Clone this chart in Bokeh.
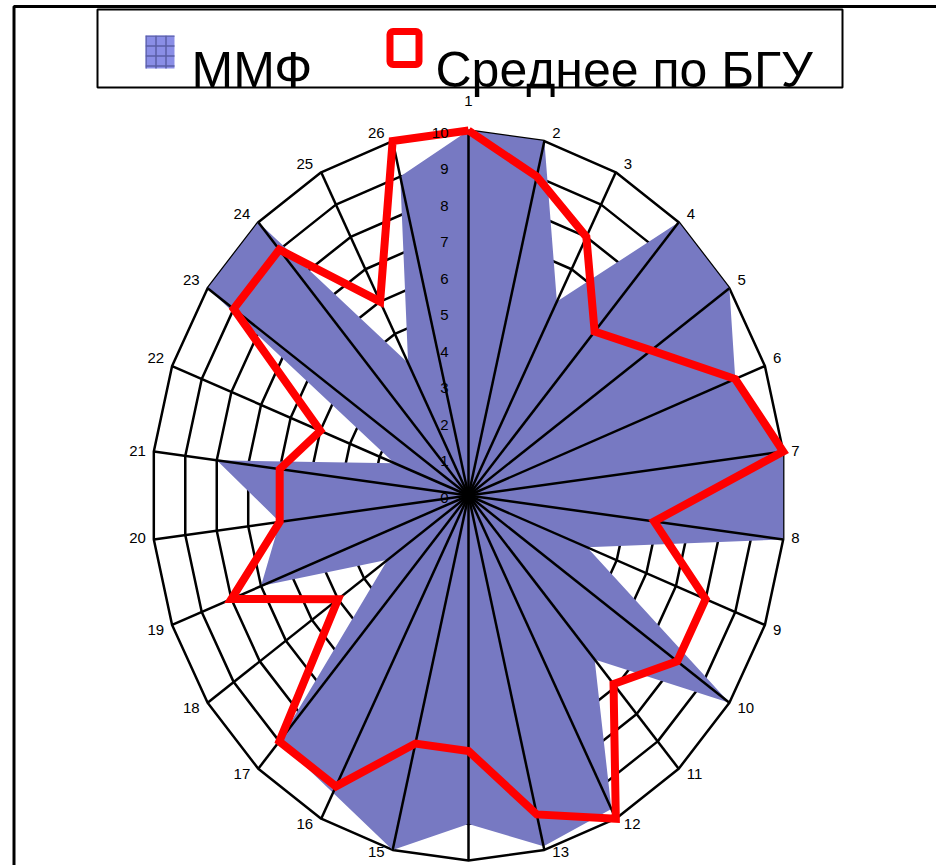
import math
from bokeh.plotting import figure
from bokeh.models import ColumnDataSource, Label, BoxAnnotation, Range1d
from bokeh.core.properties import value
from bokeh.embed import file_html
from bokeh.resources import INLINE

# ---------------- data ----------------
categories = [str(i) for i in range(1, 27)]
mmf = [10, 10, 6, 10, 10, 9, 10, 10, 4, 10, 6, 9.7, 9.9,
       9, 10, 9.2, 9, 3.1, 7, 6, 8, 2.5, 10, 10, 4.1, 9]
bgu = [10, 9, 8, 6, 7, 9, 10, 5.9, 8, 8, 6.9, 10, 9,
       7, 7, 9, 9, 5, 8, 6, 6, 5, 9, 9, 6, 10]
ticks = list(range(0, 11))
series_names = ["ММФ", "Среднее по БГУ"]

# ---------------- geometry ----------------
W, H = 936, 865
CX, CY = 468, 495          # radar centre in canvas pixels
SX, SY = 31.7, 36.5        # pixels per value unit (x / y)
n = len(categories)
ang = [2 * math.pi * i / n for i in range(n)]
sin_a = [math.sin(a) for a in ang]
cos_a = [math.cos(a) for a in ang]
vmax = ticks[-1]


def px2x(cx):
    return (cx - CX) / SX


def px2y(cy):
    return (CY - cy) / SY


def polar(vals):
    return ([v * s for v, s in zip(vals, sin_a)], [v * c for v, c in zip(vals, cos_a)])


p = figure(width=W, height=H, output_backend="svg", toolbar_location=None,
           x_range=Range1d(px2x(0), px2x(W)), y_range=Range1d(px2y(H), px2y(0)),
           min_border=0, min_border_left=0, min_border_right=0,
           min_border_top=0, min_border_bottom=0)
p.axis.visible = False
p.grid.visible = False
p.outline_line_color = None
p.background_fill_color = "white"
p.border_fill_color = "white"

# rings
ring_xs, ring_ys = [], []
for t in ticks[1:]:
    xs, ys = polar([t] * n)
    ring_xs.append(xs + [xs[0]])
    ring_ys.append(ys + [ys[0]])
p.multi_line(ring_xs, ring_ys, line_color="black", line_width=2.5)

# ММФ filled area
fx, fy = polar(mmf)
p.patch(fx, fy, fill_color="#7779c2", line_color=None)

# spokes
ox, oy = polar([vmax] * n)
p.segment(x0=[0] * n, y0=[0] * n, x1=ox, y1=oy, line_color="black", line_width=2.5)

# Среднее по БГУ line
bx, by = polar(bgu)
p.line(bx + [bx[0]], by + [by[0]], line_color="#ff0000", line_width=8, line_join="miter")

# tick labels on axis 1
p.text(x=[0] * len(ticks), y=ticks, text=[str(t) for t in ticks],
       text_align="right", text_baseline="middle", x_offset=-20, y_offset=2,
       text_font=value("Liberation Sans"), text_font_size="15px", text_color="black")

# category labels
xo, yo, al = [], [], []
for s, c in zip(sin_a, cos_a):
    if s > 0.05:
        xo.append(8); al.append("left")
    elif s < -0.05:
        xo.append(-8); al.append("right")
    else:
        xo.append(0); al.append("center")
    if c > 0.99:
        yo.append(-30)
    elif c < -0.99:
        yo.append(30)
    elif c > 0.2:
        yo.append(-8)
    elif c < -0.95:
        yo.append(2)
    elif c < -0.2:
        yo.append(5)
    else:
        yo.append(-1)
src = ColumnDataSource(dict(x=ox, y=oy, t=categories, xo=xo, yo=yo, al=al))
p.text(x="x", y="y", text="t", source=src, x_offset="xo", y_offset="yo",
       text_align="al", text_baseline="middle",
       text_font=value("Liberation Sans"), text_font_size="15px", text_color="black")

# chart-area frame (left and top edges visible; right/bottom lie beyond the canvas)
p.add_layout(BoxAnnotation(left=px2x(13.5), right=px2x(950), top=px2y(6), bottom=px2y(880),
                           fill_alpha=0, line_color="black", line_alpha=1, line_width=3))

# legend
p.add_layout(BoxAnnotation(left=px2x(97), right=px2x(842), top=px2y(9), bottom=px2y(87),
                           fill_color="white", fill_alpha=1, line_color="black",
                           line_alpha=1, line_width=2))
p.add_layout(BoxAnnotation(left=px2x(145), right=px2x(174), top=px2y(35), bottom=px2y(68),
                           fill_color="#8a8ee6", fill_alpha=1, line_color=None,
                           hatch_pattern="+", hatch_color="#5a5ea6", hatch_scale=10,
                           hatch_weight=1.5, hatch_alpha=1))
p.add_layout(BoxAnnotation(left=px2x(389.5), right=px2x(418.5), top=px2y(31), bottom=px2y(64),
                           fill_color="white", fill_alpha=1, line_color="#ff0000",
                           line_alpha=1, line_width=7, border_radius=3))
lab_font = "Liberation Sans"
p.add_layout(Label(x=px2x(191), y=px2y(69), text=series_names[0], text_font=lab_font,
                   text_font_size="50px", text_baseline="alphabetic", text_color="black"))
p.add_layout(Label(x=px2x(435), y=px2y(69), text=series_names[1], text_font=lab_font,
                   text_font_size="50px", text_baseline="alphabetic", text_color="black"))

open("out.html", "w").write(file_html(p, INLINE))
